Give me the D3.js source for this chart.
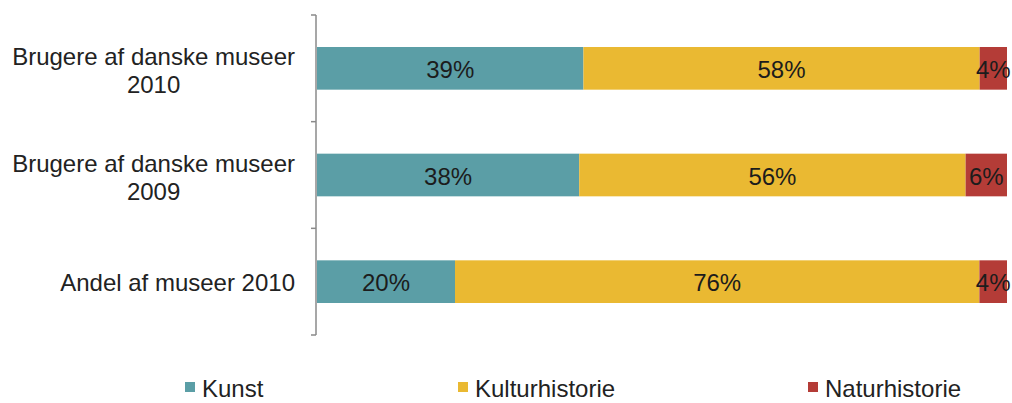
<!DOCTYPE html>
<html>
<head>
<meta charset="utf-8">
<script src="https://cdn.jsdelivr.net/npm/d3@7"></script>
<style>
  html, body { margin: 0; padding: 0; background: #ffffff; }
  svg { display: block; font-family: "Liberation Sans", Arial, sans-serif; }
</style>
</head>
<body>
<svg id="chart" width="1012" height="403"></svg>
<script>
// Categories, top to bottom; each label split into lines
const categories = ["Brugere af danske museer 2010", "Brugere af danske museer 2009", "Andel af museer 2010"];
const categoryLines = [["Brugere af danske museer", "2010"], ["Brugere af danske museer", "2009"], ["Andel af museer 2010"]];

// Series shares (percent)
const seriesNames = ["Kunst", "Kulturhistorie", "Naturhistorie"];
const kunst = [39, 38, 20];
const kulturhistorie = [58, 56, 76];
const naturhistorie = [4, 6, 4];
const seriesColors = ["#5b9ea6", "#eab932", "#b43c37"];

const rows = categories.map((c, i) => ({
  category: c,
  Kunst: kunst[i],
  Kulturhistorie: kulturhistorie[i],
  Naturhistorie: naturhistorie[i]
}));

const svg = d3.select("#chart");
const fontSize = "24px";

const x = d3.scaleLinear().domain([0, 1]).range([317, 1007]);
const y = d3.scaleBand().domain(categories).range([15, 335]).paddingInner(0.6).paddingOuter(0.3);
const color = d3.scaleOrdinal().domain(seriesNames).range(seriesColors);

// 100% stacked layout
const stacked = d3.stack().keys(seriesNames).offset(d3.stackOffsetExpand)(rows);

const layers = svg.append("g").selectAll("g")
  .data(stacked)
  .join("g")
  .attr("fill", d => color(d.key));

layers.selectAll("rect")
  .data(d => d.map(p => Object.assign(p, { key: d.key })))
  .join("rect")
  .attr("x", d => x(d[0]))
  .attr("y", d => y(d.data.category))
  .attr("width", d => x(d[1]) - x(d[0]))
  .attr("height", y.bandwidth());

// Value labels centred in each segment
layers.selectAll("text")
  .data(d => d)
  .join("text")
  .attr("x", d => (x(d[0]) + x(d[1])) / 2)
  .attr("y", d => y(d.data.category) + y.bandwidth() / 2 + 1)
  .attr("dy", "0.36em")
  .attr("text-anchor", "middle")
  .attr("fill", "#1c1c1c")
  .style("font-size", fontSize)
  .text(d => d.data[d.key] + "%");

// Category axis with ticks between categories
const axisX = 316;
const axisG = svg.append("g").attr("stroke", "#8a8a8a").attr("stroke-width", 1.5);
const [r0, r1] = y.range();
axisG.append("line").attr("x1", axisX).attr("x2", axisX).attr("y1", r0).attr("y2", r1);
const boundaries = [r0].concat(categories.slice(1).map(c => y(c) - (y.step() - y.bandwidth()) / 2), [r1]);
axisG.selectAll("line.tick")
  .data(boundaries)
  .join("line")
  .attr("class", "tick")
  .attr("x1", axisX - 5).attr("x2", axisX)
  .attr("y1", d => d).attr("y2", d => d);

// Category labels: lines centred on each other, block right-aligned to the axis
const labelRight = 295;
const lineH = 28;
categories.forEach((c, i) => {
  const lines = categoryLines[i];
  const cy = y(c) + y.bandwidth() / 2 + (lines.length > 1 ? 2 : 1);
  const t = svg.append("text")
    .attr("fill", "#222222")
    .style("font-size", fontSize);
  const tspans = lines.map((ln, j) =>
    t.append("tspan")
      .attr("y", cy + (j - (lines.length - 1) / 2) * lineH)
      .attr("dy", "0.36em")
      .text(ln));
  const widths = tspans.map(s => s.node().getComputedTextLength());
  const maxW = d3.max(widths);
  const centre = labelRight - maxW / 2;
  tspans.forEach(s => s.attr("x", centre).attr("text-anchor", "middle"));
});

// Legend
const legendItems = [
  { name: "Kunst", sx: 185 },
  { name: "Kulturhistorie", sx: 458 },
  { name: "Naturhistorie", sx: 808 }
];
const legend = svg.append("g").selectAll("g")
  .data(legendItems)
  .join("g");
legend.append("rect")
  .attr("x", d => d.sx)
  .attr("y", 382)
  .attr("width", 10)
  .attr("height", 10)
  .attr("fill", d => color(d.name));
legend.append("text")
  .attr("x", d => d.sx + 17)
  .attr("y", 397)
  .attr("fill", "#222222")
  .style("font-size", fontSize)
  .text(d => d.name);
</script>
</body>
</html>
